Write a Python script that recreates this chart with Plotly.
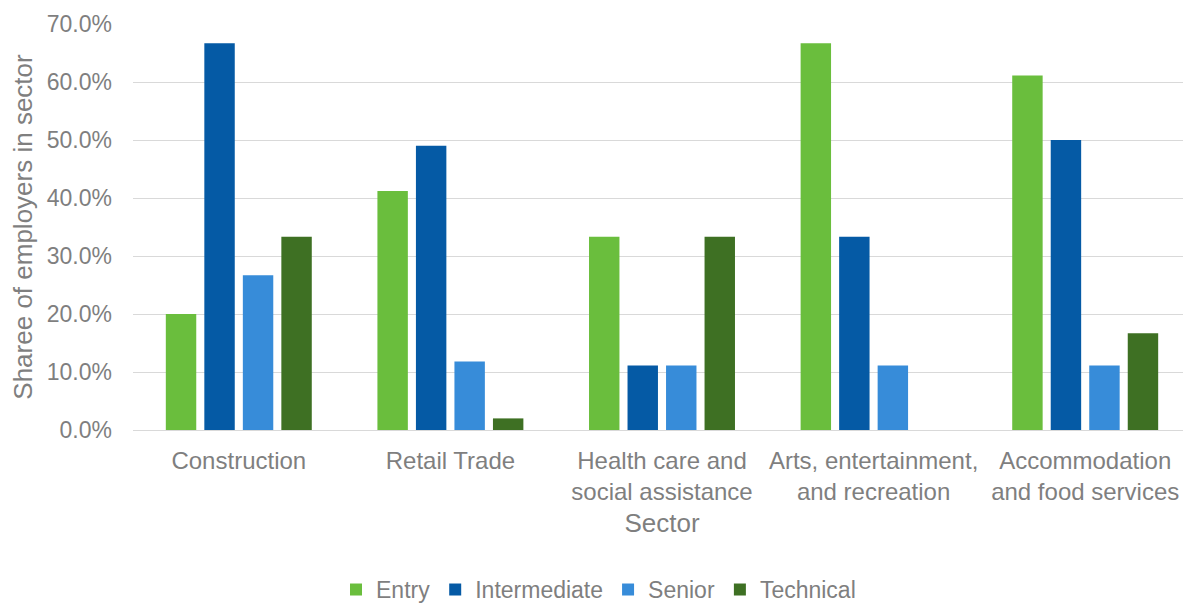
import plotly.graph_objects as go

sectors = ["Construction", "Retail Trade", "Health care and<br>social assistance",
           "Arts, entertainment,<br>and recreation", "Accommodation<br>and food services"]
entry = [20.0, 41.2, 33.3, 66.7, 61.1]
intermediate = [66.7, 49.0, 11.1, 33.3, 50.0]
senior = [26.7, 11.8, 11.1, 11.1, 11.1]
technical = [33.3, 2.0, 33.3, 0.0, 16.7]

series = [("Entry", entry, "#6ABE3D"), ("Intermediate", intermediate, "#055AA5"),
          ("Senior", senior, "#378CD9"), ("Technical", technical, "#3E7023")]

fig = go.Figure()
for name, vals, col in series:
    fig.add_trace(go.Bar(x=sectors, y=vals, name=name, marker_color=col,
                         marker_line_width=0))

fam = "Liberation Sans, Arial, sans-serif"
grey = "#7F7F7F"
tickfont = dict(family=fam, size=23, color=grey)
catfont = dict(family=fam, size=24, color=grey)
titlefont = dict(family=fam, size=26, color=grey)
legfont = dict(family=fam, size=23, color=grey)

fig.update_layout(
    width=1183, height=597,
    margin=dict(l=125, r=0, t=16, b=175, autoexpand=False),
    paper_bgcolor="white", plot_bgcolor="white",
    font=tickfont,
    barmode="group", bargap=0.272, bargroupgap=0.21,
    legend=dict(orientation="h", x=0.44, xanchor="center", y=-0.393, yanchor="middle",
                font=legfont, itemwidth=30, traceorder="normal"),
    xaxis=dict(title=dict(text="Sector", font=titlefont, standoff=9), showgrid=False,
               showline=True, linecolor="#D9D9D9", linewidth=1, ticks="", tickfont=catfont,
               ticklabelstandoff=9, automargin=False),
    yaxis=dict(title=dict(text="Sharee of employers in sector", font=titlefont, standoff=8),
               range=[0, 70], dtick=10, tickformat=".1f", ticksuffix="%",
               showgrid=True, gridcolor="#D9D9D9", gridwidth=1, zeroline=False,
               showline=False, ticks="", tickfont=tickfont, ticklabelstandoff=20,
               automargin=False),
)
fig.write_html("out.html")
